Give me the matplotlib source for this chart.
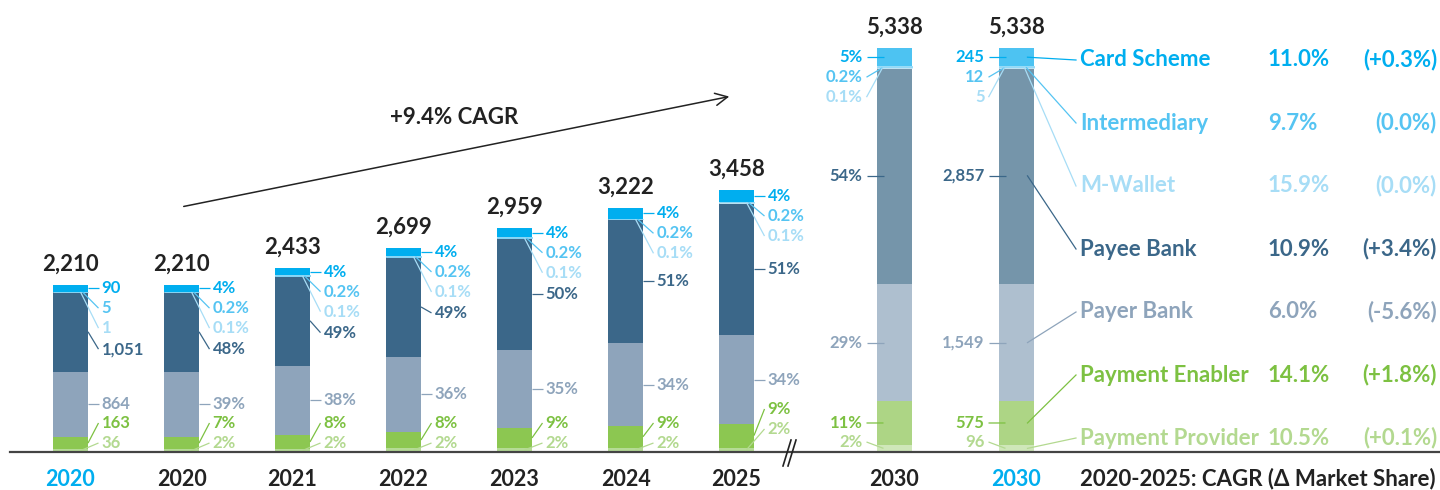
import matplotlib
matplotlib.use('Agg')
import matplotlib.pyplot as plt

plt.rcParams['font.family'] = ['Lato', 'DejaVu Sans']

# ---- data ----
years = ['2020', '2020', '2021', '2022', '2023', '2024', '2025', '2030', '2030']
totals = [2210, 2210, 2433, 2699, 2959, 3222, 3458, 5338, 5338]
segments = ['Card Scheme', 'Intermediary', 'M-Wallet', 'Payee Bank',
            'Payer Bank', 'Payment Enabler', 'Payment Provider']
card = [90, 90, 100, 111, 124, 137, 152, 245, 245]
inter = [5, 5, 6, 6, 7, 7, 8, 12, 12]
mwallet = [1, 1, 1, 2, 2, 2, 2, 5, 5]
payee = [1051, 1051, 1184, 1327, 1478, 1640, 1756, 2857, 2857]
payer = [864, 864, 916, 983, 1030, 1090, 1165, 1549, 1549]
enabler = [163, 163, 186, 222, 264, 289, 316, 575, 575]
provider = [36, 36, 40, 48, 54, 57, 59, 96, 96]

share_labels = [
    None,
    ['4%', '0.2%', '0.1%', '48%', '39%', '7%', '2%'],
    ['4%', '0.2%', '0.1%', '49%', '38%', '8%', '2%'],
    ['4%', '0.2%', '0.1%', '49%', '36%', '8%', '2%'],
    ['4%', '0.2%', '0.1%', '50%', '35%', '9%', '2%'],
    ['4%', '0.2%', '0.1%', '51%', '34%', '9%', '2%'],
    ['4%', '0.2%', '0.1%', '51%', '34%', '9%', '2%'],
    ['5%', '0.2%', '0.1%', '54%', '29%', '11%', '2%'],
    None,
]
cagr = ['11.0%', '9.7%', '15.9%', '10.9%', '6.0%', '14.1%', '10.5%']
delta = ['(+0.3%)', '(0.0%)', '(0.0%)', '(+3.4%)', '(-5.6%)', '(+1.8%)', '(+0.1%)']
total_cagr = '+9.4% CAGR'

# ---- styling ----
text_cols = ['#00AEEF', '#55C4F2', '#A7DDF6', '#3B6789', '#8EA4BB', '#7DC142', '#B3D990']
bar_cols = ['#00AEEF', '#7FD3F6', '#C6EBFB', '#3B6789', '#8EA4BB', '#8CC751', '#B5DB96']
bar_cols_2030 = ['#4DC3F2', '#8FD8F7', '#C6EBFB', '#7595AA', '#AEBFCF', '#ADD585', '#CFE7B9']
year_cols = ['#00AEEF'] + ['#222222'] * 7 + ['#00AEEF']

U = 5338 / 404.0  # data units per pixel


def dy(px):
    return px * U


def py(px):
    return (452 - px) * U


fig = plt.figure(figsize=(14.4, 4.9), dpi=100)
ax = fig.add_axes([0, 0, 1, 1])
ax.set_xlim(0, 1440)
ax.set_ylim(py(490), py(0))
ax.axis('off')

xs = [70.5 + 111 * i for i in range(7)] + [894.5, 1016.5]
half = 17.5
lw = 0.9
seg_fs = 12

for i, cx in enumerate(xs):
    vals = [card[i], inter[i], mwallet[i], payee[i], payer[i], enabler[i], provider[i]]
    cols = bar_cols_2030 if i >= 7 else bar_cols
    # stack bottom-up
    bottoms = {}
    b = 0
    for k in range(6, -1, -1):
        ax.bar(cx, vals[k], bottom=b, width=35, color=cols[k],
               edgecolor=cols[k] if k in (1, 2) else 'none', linewidth=0.6)
        bottoms[k] = b
        b += vals[k]
    top = b
    centers = {k: bottoms[k] + vals[k] / 2 for k in range(7)}
    payee_top = bottoms[2]

    ax.text(cx, top + dy(21), f'{totals[i]:,}', ha='center', va='center',
            fontsize=16, fontweight='bold', color='#222222')
    ax.text(cx, py(479), years[i], ha='center', va='center',
            fontsize=15.5, fontweight='bold', color=year_cols[i])

    labels = share_labels[i] if share_labels[i] else [f'{v:,}' for v in vals]

    if i < 7:
        lab = {}
        lab[0] = centers[0]
        lab[1] = centers[0] - dy(20)
        lab[2] = centers[0] - dy(40)
        lab[3] = min(centers[3], lab[2] - dy(21))
        lab[4] = centers[4]
        lift = dy(14) if i == 6 else 0
        lab[5] = dy(29) + lift
        lab[6] = dy(9) + lift
        starts = {0: (cx + half, lab[0]), 1: (cx + 12, payee_top),
                  2: (cx + 10, payee_top), 3: (cx + half, centers[3]),
                  4: (cx + half, centers[4]), 5: (cx + half, centers[5]),
                  6: (cx + 10, centers[6])}
        for k in range(7):
            x0, y0 = starts[k]
            ax.plot([x0, cx + 28], [y0, lab[k]], color=text_cols[k], lw=lw,
                    solid_capstyle='butt')
            ax.text(cx + 31, lab[k], labels[k], ha='left', va='center',
                    fontsize=seg_fs, fontweight='bold', color=text_cols[k])
    else:
        lab = {}
        lab[0] = centers[0]
        lab[1] = centers[0] - dy(20)
        lab[2] = centers[0] - dy(40)
        lab[3] = centers[3]
        lab[4] = centers[4]
        lab[5] = dy(29)
        lab[6] = dy(10)
        ends = {0: (cx - 11, lab[0]), 1: (cx - 12, payee_top),
                2: (cx - 12, payee_top), 3: (cx - 11, lab[3]),
                4: (cx - 11, lab[4]), 5: (cx - 11, centers[5]),
                6: (cx - 11, centers[6])}
        for k in range(7):
            x1, y1 = ends[k]
            ax.plot([cx - 28, x1], [lab[k], y1], color=text_cols[k], lw=lw,
                    solid_capstyle='butt')
            ax.text(cx - 32, lab[k], labels[k], ha='right', va='center',
                    fontsize=seg_fs, fontweight='bold', color=text_cols[k])

    if i == 8:
        starts = [(cx + 11, centers[0]), (cx + 10, payee_top), (cx + 8, payee_top),
                  (cx + 11, centers[3]), (cx + 11, centers[4]),
                  (cx + 11, centers[5]), (cx + 11, centers[6])]
        for k in range(7):
            ly = py(60 + 63 * k)
            x0, y0 = starts[k]
            ax.plot([x0, 1076], [y0, ly], color=text_cols[k], lw=lw)
            ax.text(1080, ly, segments[k], ha='left', va='center',
                    fontsize=16, fontweight='bold', color=text_cols[k])
            ax.text(1268, ly, cagr[k], ha='left', va='center',
                    fontsize=16, fontweight='bold', color=text_cols[k])
            ax.text(1437, ly, delta[k], ha='right', va='center',
                    fontsize=16, fontweight='bold', color=text_cols[k])

# baseline and axis break
ax.plot([10, 1440], [0, 0], color='#444444', lw=1.6, zorder=5)
for bx in (783, 788):
    ax.plot([bx, bx + 8], [py(466), py(440)], color='#222222', lw=1.2, zorder=6)

ax.text(1080, py(479), '2020-2025: CAGR (Δ Market Share)', ha='left', va='center',
        fontsize=16, fontweight='bold', color='#222222')

# CAGR arrow
ax.annotate('', xy=(732, py(96)), xytext=(181, py(207)),
            arrowprops=dict(arrowstyle='->', color='#222222', lw=1.1,
                            mutation_scale=22))
ax.text(390, py(118), total_cagr, ha='left', va='center',
        fontsize=16, fontweight='bold', color='#222222')

fig.savefig('out.png', dpi=100)
